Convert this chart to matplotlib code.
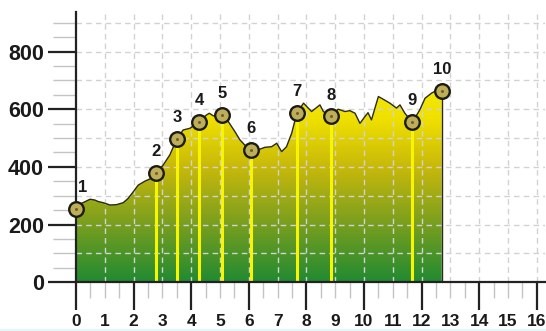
import numpy as np
import matplotlib
matplotlib.use('Agg')
import matplotlib.pyplot as plt
from matplotlib.colors import LinearSegmentedColormap
from matplotlib.patches import Polygon, Rectangle
from matplotlib.ticker import MultipleLocator

# elevation profile (distance, elevation)
dist = [0.0, 0.2, 0.49, 0.66, 0.77, 0.94, 1.18, 1.4, 1.64, 1.81, 1.99, 2.16,
        2.4, 2.63, 2.78, 3.03, 3.26, 3.5, 3.72, 3.96, 4.28, 4.53, 4.63, 4.77,
        5.06, 5.29, 5.52, 5.69, 5.86, 6.09, 6.32, 6.56, 6.79, 6.97, 7.14,
        7.31, 7.49, 7.67, 7.9, 8.18, 8.47, 8.59, 8.85, 9.1, 9.34, 9.51, 9.69,
        9.86, 10.03, 10.14, 10.26, 10.5, 10.66, 10.9, 11.13, 11.25, 11.42,
        11.68, 11.94, 12.12, 12.35, 12.52, 12.7]
elev = [253, 274, 288, 285, 280, 276, 268, 269, 276, 291, 314, 337,
        351, 361, 378, 407, 442, 497, 528, 534, 557, 580, 586, 577,
        579, 557, 522, 494, 476, 459, 459, 468, 470, 482, 453,
        470, 517, 587, 621, 592, 615, 592, 575, 600, 592, 595, 586,
        551, 574, 588, 563, 644, 635, 621, 604, 615, 586,
        555, 598, 638, 656, 665, 662]

# numbered waypoints
wp_num = [1, 2, 3, 4, 5, 6, 7, 8, 9, 10]
wp_dist = [0.0, 2.78, 3.5, 4.28, 5.06, 6.09, 7.67, 8.85, 11.68, 12.7]
wp_elev = [253, 378, 497, 557, 579, 459, 587, 575, 555, 662]

x_labels = [str(i) for i in range(17)]
y_labels = ['0', '200', '400', '600', '800']

label_font = 'Liberation Sans'

fig = plt.figure(figsize=(5.46, 3.31), dpi=100)
ax = fig.add_axes([76 / 546, 48.7 / 331, 469.4 / 546, 270.6 / 331])
ax.set_xlim(0, 16.3)
ax.set_ylim(0, 938)

# gradient fill clipped to the profile
cmap = LinearSegmentedColormap.from_list(
    'elev', [(0.0, '#218a31'), (0.35, '#86a21c'), (0.6, '#c8b90a'),
             (0.85, '#efe000'), (1.0, '#f4e800')])
ytop = max(elev)
grad = np.linspace(0, 1, 256).reshape(-1, 1)
im = ax.imshow(grad, cmap=cmap, origin='lower', aspect='auto',
               extent=[0, dist[-1], 0, ytop], zorder=1)
poly = Polygon(list(zip(dist, elev)) + [(dist[-1], 0), (dist[0], 0)],
               closed=True, facecolor='none', edgecolor='none')
ax.add_patch(poly)
im.set_clip_path(poly)

# grid over the fill
for gx in range(1, 17):
    ax.axvline(gx, color='#d2d2d2', lw=1, ls=(0, (4, 3)), zorder=2)
for gy in range(100, 1000, 100):
    ax.axhline(gy, color='#d2d2d2', lw=1, ls=(0, (4, 3)), zorder=2)

# yellow drop lines from waypoints
for d, e in zip(wp_dist[1:-1], wp_elev[1:-1]):
    ax.plot([d, d], [0, e], color='#f7f500', lw=2.2, zorder=3,
            solid_capstyle='butt')

ax.plot(dist, elev, color='#2b2b1a', lw=1.0, zorder=4)
ax.plot([dist[-1], dist[-1]], [0, elev[-1]], color='#2b2b1a', lw=1.0, zorder=4)

ax.plot(wp_dist, wp_elev, 'o', ms=10.5, mfc='#bfae58', mec='#1c1c14',
        mew=1.7, zorder=6, clip_on=False)
ax.plot(wp_dist, wp_elev, 'o', ms=2.2, mfc='#6e6030', mec='none', zorder=7,
        clip_on=False)

for n, d, e in zip(wp_num, wp_dist, wp_elev):
    dx = 5 if n == 1 else 0
    ax.annotate(str(n), (d, e), xytext=(dx, 10), textcoords='offset points',
                ha='center', va='bottom', fontsize=12, fontweight='bold',
                family=label_font, color='#1a1a1a', zorder=8)

for s in ['top', 'right']:
    ax.spines[s].set_visible(False)
for s in ['left', 'bottom']:
    ax.spines[s].set_color('#222222')
    ax.spines[s].set_linewidth(1.6)
    ax.spines[s].set_zorder(5)

# x ticks: long dark at even km, short grey elsewhere
ax.set_xticks(range(17))
ax.set_xticklabels(x_labels, fontsize=12.5, fontweight='bold',
                   family=label_font, color='#1a1a1a')
ax.tick_params(axis='x', which='major', direction='out', length=20,
               width=1.6, color='#222222', pad=3)
for i, t in enumerate(ax.xaxis.get_major_ticks()):
    if i % 2:
        t.tick1line.set_markersize(11.5)
        t.tick1line.set_markeredgecolor('#c4c4c4')
        t.tick1line.set_markeredgewidth(1.0)
ax.set_xticks(np.arange(0.5, 16.5, 1.0), minor=True)
ax.tick_params(axis='x', which='minor', direction='out', length=11.5,
               width=1.0, color='#c4c4c4')

ax.set_yticks(range(0, 801, 200))
ax.set_yticklabels(y_labels, fontsize=15.5, fontweight='bold',
                   family=label_font, color='#1a1a1a')
ax.tick_params(axis='y', which='major', direction='out', length=20,
               width=1.6, color='#222222', pad=3)
ax.yaxis.set_minor_locator(MultipleLocator(50))
ax.set_yticks([v for v in range(50, 901, 50) if v % 200], minor=True)
ax.tick_params(axis='y', which='minor', direction='out', length=16.5,
               width=1.0, color='#c4c4c4')

fig.patches.append(Rectangle((0, 0), 1, 2 / 331, transform=fig.transFigure,
                             color='#e4f6f6', zorder=0))

fig.savefig('out.png', dpi=100)
